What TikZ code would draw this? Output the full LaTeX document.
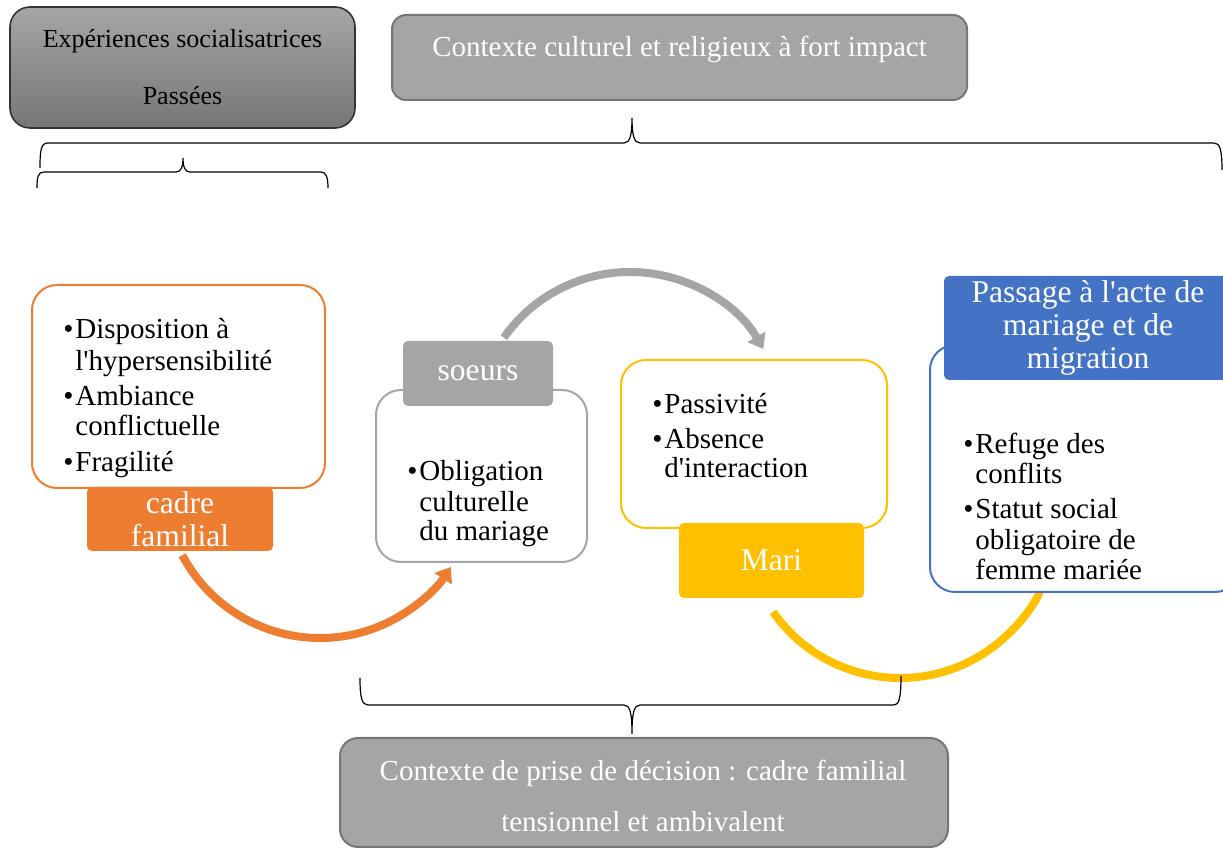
\documentclass[tikz,border=0pt]{standalone}
\usepackage{fontspec}
\setmainfont{Liberation Serif}
\usetikzlibrary{arrows.meta}
\definecolor{orng}{HTML}{ED7D31}
\definecolor{gry}{HTML}{A5A5A5}
\definecolor{gryd}{HTML}{767676}
\definecolor{ylw}{HTML}{FFC000}
\definecolor{blu}{HTML}{4472C4}
\definecolor{topA}{HTML}{A6A6A6}
\definecolor{topB}{HTML}{767676}
\newcommand\bulmark{\makebox[6pt][l]{•}}
\newcommand\apos{\textquotesingle}
\tikzset{
 ctxbox/.style={draw=gryd, line width=1pt, fill=gry, rounded corners=7pt, inner sep=0pt},
 listbox/.style={line width=1pt, fill=white, rounded corners=12.5pt, inner sep=0pt},
 lab/.style={rounded corners=2.5pt, inner sep=0pt, text=white, align=center, font=\fontsize{15.8}{16.5}\selectfont},
 btxt/.style={anchor=base west, inner sep=0pt, font=\fontsize{14.5}{16.5}\selectfont},
 ctxtxt/.style={inner sep=0pt, text=white, align=center},
 brace/.style={line width=0.6pt, black},
 bigarrow/.style={line width=4pt, -{Triangle[width=10pt,length=7pt]}},
}
\begin{document}
\begin{tikzpicture}[x=0.5pt,y=-0.5pt]
\useasboundingbox (0,0) rectangle (1223,849);
% arrows (behind boxes)
\coordinate (gc) at (630,426);
\coordinate (oc) at (320,482);
\coordinate (yc) at (900,523);
\draw[bigarrow, gry] (gc) ++(-145:154) coordinate (gs) arc[start angle=-145, end angle=-30, radius=154];
\draw[bigarrow, orng] (oc) ++(152:156) coordinate (os) arc[start angle=152, end angle=33, radius=156];
\draw[bigarrow, ylw] (yc) ++(145:155) coordinate (ys) arc[start angle=145, end angle=20, radius=155];

% top boxes
\node[draw=black!80, line width=0.8pt, top color=topA, bottom color=topB, rounded corners=10pt,
      minimum width=172.5pt, minimum height=60.5pt, inner sep=0pt, align=center,
      font=\fontsize{13}{28.5}\selectfont] (exp) at (182.5,67.5) {Expériences socialisatrices\\Passées};
\node[ctxbox, minimum width=287.5pt, minimum height=42.5pt] (ccr) at (679.5,57.5) {};
\node[ctxtxt, font=\fontsize{14.5}{16.5}\selectfont] (ccrt) at (679.5,49) {Contexte culturel et religieux à fort impact};

% braces
\draw[brace] (40,168) .. controls (40,150) and (41,143) .. (48,143) -- (624,143)
  .. controls (630,143) and (632,135) .. (632,118)
  .. controls (632,135) and (634,143) .. (640,143) -- (1214,143)
  .. controls (1220,143) and (1222,150) .. (1222,170);
\draw[brace] (37,188) .. controls (37,177) and (38,172) .. (44,172) -- (176,172)
  .. controls (181,172) and (183,167) .. (183,158)
  .. controls (183,167) and (185,172) .. (190,172) -- (321,172)
  .. controls (326,172) and (328,177) .. (328,188);
\draw[brace] (360,678) .. controls (360,698) and (362,705) .. (368,705) -- (624,705)
  .. controls (630,705) and (632,713) .. (632,734)
  .. controls (632,713) and (634,705) .. (640,705) -- (894,705)
  .. controls (899,705) and (901,698) .. (901,676);

% bottom box
\node[ctxbox, rounded corners=9pt, minimum width=304pt, minimum height=54.5pt] (dec) at (644,792.5) {};
\node[ctxtxt, font=\fontsize{14.5}{25.5}\selectfont] (dect) at (643,796) {Contexte de prise de décision : cadre familial\\tensionnel et ambivalent};

% list boxes
\node[listbox, draw=orng, minimum width=146.5pt, minimum height=101.5pt] (ob) at (178.5,386.5) {};
\node[lab, fill=orng, minimum width=93pt, minimum height=32pt] (ol) at (180,519) {cadre\\familial};
\node[listbox, draw=gry, minimum width=105.5pt, minimum height=86pt] (gb) at (481.5,476) {};
\node[lab, fill=gry, minimum width=75pt, minimum height=32.5pt] (gl) at (478,373.5) {soeurs};
\node[listbox, draw=ylw, minimum width=133pt, minimum height=84pt] (yb) at (754,444) {};
\node[lab, fill=ylw, minimum width=92.5pt, minimum height=37.5pt] (yl) at (771.5,560.5) {Mari};
\node[listbox, draw=blu, minimum width=155pt, minimum height=123.5pt] (bb) at (1085,468.5) {};
\node[lab, fill=blu, minimum width=144pt, minimum height=52pt] (bl) at (1088,328) {Passage à l\apos acte de\\mariage et de\\migration};

% orange list
\node[btxt] (o1) at (63,339) {\bulmark Disposition à};
\node[btxt] (o2) at (75,371) {l\apos hypersensibilité};
\node[btxt] (o3) at (63,406) {\bulmark Ambiance};
\node[btxt] (o4) at (75,436) {conflictuelle};
\node[btxt] (o5) at (63,472) {\bulmark Fragilité};
% gray list
\node[btxt] (g1) at (407,481) {\bulmark Obligation};
\node[btxt] (g2) at (419,512) {culturelle};
\node[btxt] (g3) at (419,541) {du mariage};
% yellow list
\node[btxt] (y1) at (652,414) {\bulmark Passivité};
\node[btxt] (y2) at (652,449) {\bulmark Absence};
\node[btxt] (y3) at (664,478) {d\apos interaction};
% blue list
\node[btxt] (b1) at (963,454) {\bulmark Refuge des};
\node[btxt] (b2) at (975,484) {conflits};
\node[btxt] (b3) at (963,519) {\bulmark Statut social};
\node[btxt] (b4) at (975,550) {obligatoire de};
\node[btxt] (b5) at (975,580) {femme mariée};
\end{tikzpicture}
\end{document}
